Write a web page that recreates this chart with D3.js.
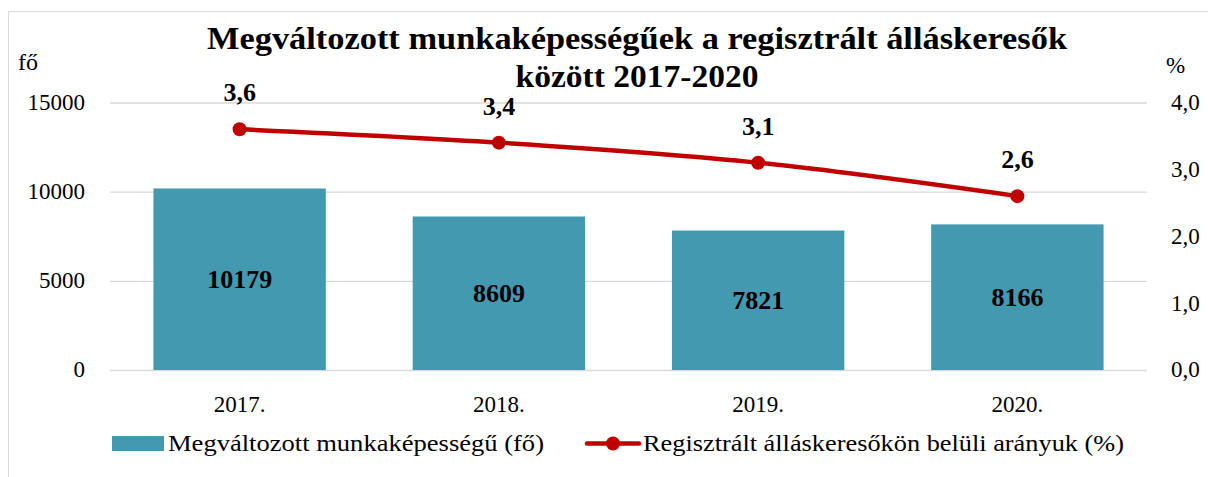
<!DOCTYPE html>
<html><head><meta charset="utf-8">
<script src="https://cdn.jsdelivr.net/npm/d3@7"></script>
<style>body{margin:0;background:#fff}svg{display:block}text{font-family:"Liberation Serif","Times New Roman",serif;fill:#000}</style>
</head><body>
<script>
const categories = ["2017.", "2018.", "2019.", "2020."];
const barValues = [10179, 8609, 7821, 8166];
const lineValues = [3.6, 3.4, 3.1, 2.6];
const leftTicks = [0, 5000, 10000, 15000];
const rightTicks = [0, 1, 2, 3, 4];
const titleLines = ["Megváltozott munkaképességűek a regisztrált álláskeresők", "között 2017-2020"];
const legendLabels = ["Megváltozott munkaképességű (fő)", "Regisztrált álláskeresőkön belüli arányuk (%)"];

const W = 1208, H = 477;
const svg = d3.select("body").append("svg").attr("width", W).attr("height", H);
svg.append("rect").attr("x", 8.5).attr("y", 11.5).attr("width", W + 10).attr("height", H + 10)
  .attr("fill", "none").attr("stroke", "#d9d9d9");

const L = 110, R = 1147, T = 102.5, B = 370;
const x = d3.scaleBand().domain(categories).range([L, R]).paddingInner(0.335).paddingOuter(0.1675);
const y = d3.scaleLinear().domain([0, 15000]).range([B, T]);
const y2 = d3.scaleLinear().domain([0, 4]).range([B, T]);

svg.append("g").selectAll("line").data(leftTicks).join("line")
  .attr("x1", L).attr("x2", R).attr("y1", d => y(d) + 0.5).attr("y2", d => y(d) + 0.5)
  .attr("stroke", "#d9d9d9").attr("stroke-width", 1.3);

const fmtL = d => String(d);
const fmtR = d => d3.format(".1f")(d).replace(".", ",");

const axL = svg.append("g").attr("transform", `translate(${L},0)`)
  .call(d3.axisLeft(y).tickValues(leftTicks).tickFormat(fmtL).tickSize(0).tickPadding(25));
axL.select(".domain").remove();
axL.selectAll("text").style("font-size", "23px").style("font-family", "Liberation Serif").attr("dy", "0.3em");

const axR = svg.append("g").attr("transform", `translate(${R},0)`)
  .call(d3.axisRight(y2).tickValues(rightTicks).tickFormat(fmtR).tickSize(0).tickPadding(24));
axR.select(".domain").remove();
axR.selectAll("text").style("font-size", "23px").style("font-family", "Liberation Serif").attr("dy", "0.3em");

const axB = svg.append("g").attr("transform", `translate(0,${B})`)
  .call(d3.axisBottom(x).tickSize(0).tickPadding(26));
axB.select(".domain").remove();
axB.selectAll("text").style("font-size", "23px").style("font-family", "Liberation Serif");

svg.append("text").attr("x", 18).attr("y", 70).style("font-size", "24px").text("fő");
svg.append("text").attr("x", 1166).attr("y", 73).style("font-size", "23px").text("%");

// bars
svg.append("g").selectAll("rect").data(barValues).join("rect")
  .attr("x", (d, i) => x(categories[i])).attr("width", x.bandwidth())
  .attr("y", d => y(d)).attr("height", d => B - y(d)).attr("fill", "#4399B0");
svg.append("g").selectAll("text").data(barValues).join("text")
  .attr("x", (d, i) => x(categories[i]) + x.bandwidth() / 2)
  .attr("y", d => (y(d) + B) / 2 + 9).attr("text-anchor", "middle")
  .style("font-size", "26px").style("font-weight", "bold").text(d => d);

// line
const cx = (d, i) => x(categories[i]) + x.bandwidth() / 2;
const line = d3.line().x(cx).y(d => y2(d)).curve(d3.curveCatmullRom.alpha(0.5));
svg.append("path").datum(lineValues).attr("d", line).attr("fill", "none")
  .attr("stroke", "#C00000").attr("stroke-width", 4.5).attr("stroke-linecap", "round");
svg.append("g").selectAll("circle").data(lineValues).join("circle")
  .attr("cx", cx).attr("cy", d => y2(d)).attr("r", 7).attr("fill", "#C00000");
svg.append("g").selectAll("text").data(lineValues).join("text")
  .attr("x", cx).attr("y", d => y2(d) - 28).attr("text-anchor", "middle")
  .style("font-size", "26px").style("font-weight", "bold").text(d => fmtR(d));

// title
const titleLens = [860, 243];
svg.append("g").selectAll("text").data(titleLines).join("text")
  .attr("x", 637).attr("y", (d, i) => 49 + i * 38).attr("text-anchor", "middle")
  .attr("textLength", (d, i) => titleLens[i]).attr("lengthAdjust", "spacingAndGlyphs")
  .style("font-size", "31px").style("font-weight", "bold").text(d => d);

// legend
svg.append("rect").attr("x", 112).attr("y", 436).attr("width", 52).attr("height", 15).attr("fill", "#4399B0");
svg.append("text").attr("x", 168).attr("y", 451).style("font-size", "23px")
  .attr("textLength", 376).attr("lengthAdjust", "spacingAndGlyphs").text(legendLabels[0]);
svg.append("line").attr("x1", 587).attr("x2", 639).attr("y1", 443.5).attr("y2", 443.5)
  .attr("stroke", "#C00000").attr("stroke-width", 4.5).attr("stroke-linecap", "round");
svg.append("circle").attr("cx", 613).attr("cy", 443.5).attr("r", 7).attr("fill", "#C00000");
svg.append("text").attr("x", 643).attr("y", 451).style("font-size", "23px")
  .attr("textLength", 481).attr("lengthAdjust", "spacingAndGlyphs").text(legendLabels[1]);
</script>
</body></html>
